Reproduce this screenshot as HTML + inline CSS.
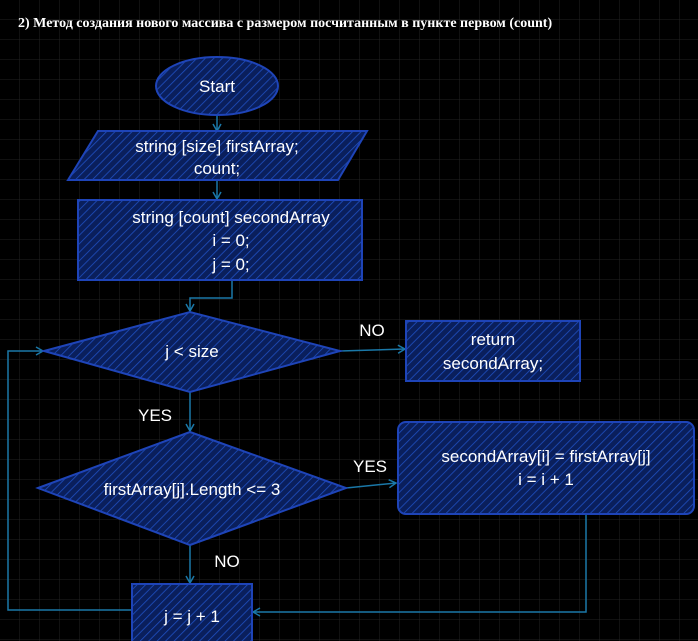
<!DOCTYPE html>
<html><head><meta charset="utf-8"><style>
html,body{margin:0;padding:0;background:#000;width:698px;height:641px;overflow:hidden}
svg{display:block}
text{font-family:"Liberation Sans",sans-serif;fill:#fff;font-size:17px}
</style></head><body>
<svg width="698" height="641" viewBox="0 0 698 641">
<defs>
<pattern id="g" width="20" height="20" patternUnits="userSpaceOnUse"><path d="M20 0V20M0 20H20" stroke="#222" stroke-width="1" fill="none"/></pattern>
<pattern id="h" width="6" height="6" patternUnits="userSpaceOnUse" patternTransform="rotate(45)"><rect width="6" height="6" fill="#0a1f5c"/><line x1="0" y1="0" x2="0" y2="6" stroke="#1f4fc0" stroke-width="1.6"/></pattern>
<marker id="a" markerWidth="10" markerHeight="10" refX="8" refY="5" orient="auto" markerUnits="userSpaceOnUse"><path d="M1 1L8 5L1 9" fill="none" stroke="#1a78a8" stroke-width="1.5"/></marker>
</defs>
<rect width="698" height="641" fill="#000"/>
<rect width="698" height="641" fill="url(#g)"/>
<text x="18" y="27" style="font-family:'Liberation Serif',serif;font-size:14px;font-weight:bold">2) Метод создания нового массива с размером посчитанным в пункте первом (count)</text>
<g stroke="#1a78a8" stroke-width="1.5" fill="none">
<path d="M217 116V131" marker-end="url(#a)"/>
<path d="M217 180V199" marker-end="url(#a)"/>
<path d="M232 280V298H190V311" marker-end="url(#a)"/>
<path d="M340 351L405 349" marker-end="url(#a)"/>
<path d="M190 392V431" marker-end="url(#a)"/>
<path d="M346 488L396 483" marker-end="url(#a)"/>
<path d="M190 545V583" marker-end="url(#a)"/>
<path d="M586 514V612H253" marker-end="url(#a)"/>
<path d="M132 610H8V351H43" marker-end="url(#a)"/>
</g>
<g fill="url(#h)" stroke="#1e44b8" stroke-width="2">
<ellipse cx="217" cy="86" rx="61" ry="29"/>
<polygon points="68,180 98,131 367,131 338,180"/>
<rect x="78" y="200" width="284" height="80"/>
<polygon points="44,351 190,312 340,351 190,392"/>
<rect x="406" y="321" width="174" height="60"/>
<polygon points="38,488 190,432 346,488 190,545"/>
<rect x="398" y="422" width="296" height="92" rx="8"/>
<rect x="132" y="584" width="120" height="60"/>
</g>
<g text-anchor="middle">
<text x="217" y="92">Start</text>
<text x="217" y="152">string [size] firstArray;</text>
<text x="217" y="174">count;</text>
<text x="231" y="223">string [count] secondArray</text>
<text x="231" y="246">i = 0;</text>
<text x="231" y="270">j = 0;</text>
<text x="192" y="357">j &lt; size</text>
<text x="372" y="336">NO</text>
<text x="493" y="345">return</text>
<text x="493" y="369">secondArray;</text>
<text x="155" y="421">YES</text>
<text x="192" y="495">firstArray[j].Length &lt;= 3</text>
<text x="370" y="472">YES</text>
<text x="546" y="462">secondArray[i] = firstArray[j]</text>
<text x="546" y="485">i = i + 1</text>
<text x="227" y="567">NO</text>
<text x="192" y="622">j = j + 1</text>
</g>
</svg>
</body></html>
